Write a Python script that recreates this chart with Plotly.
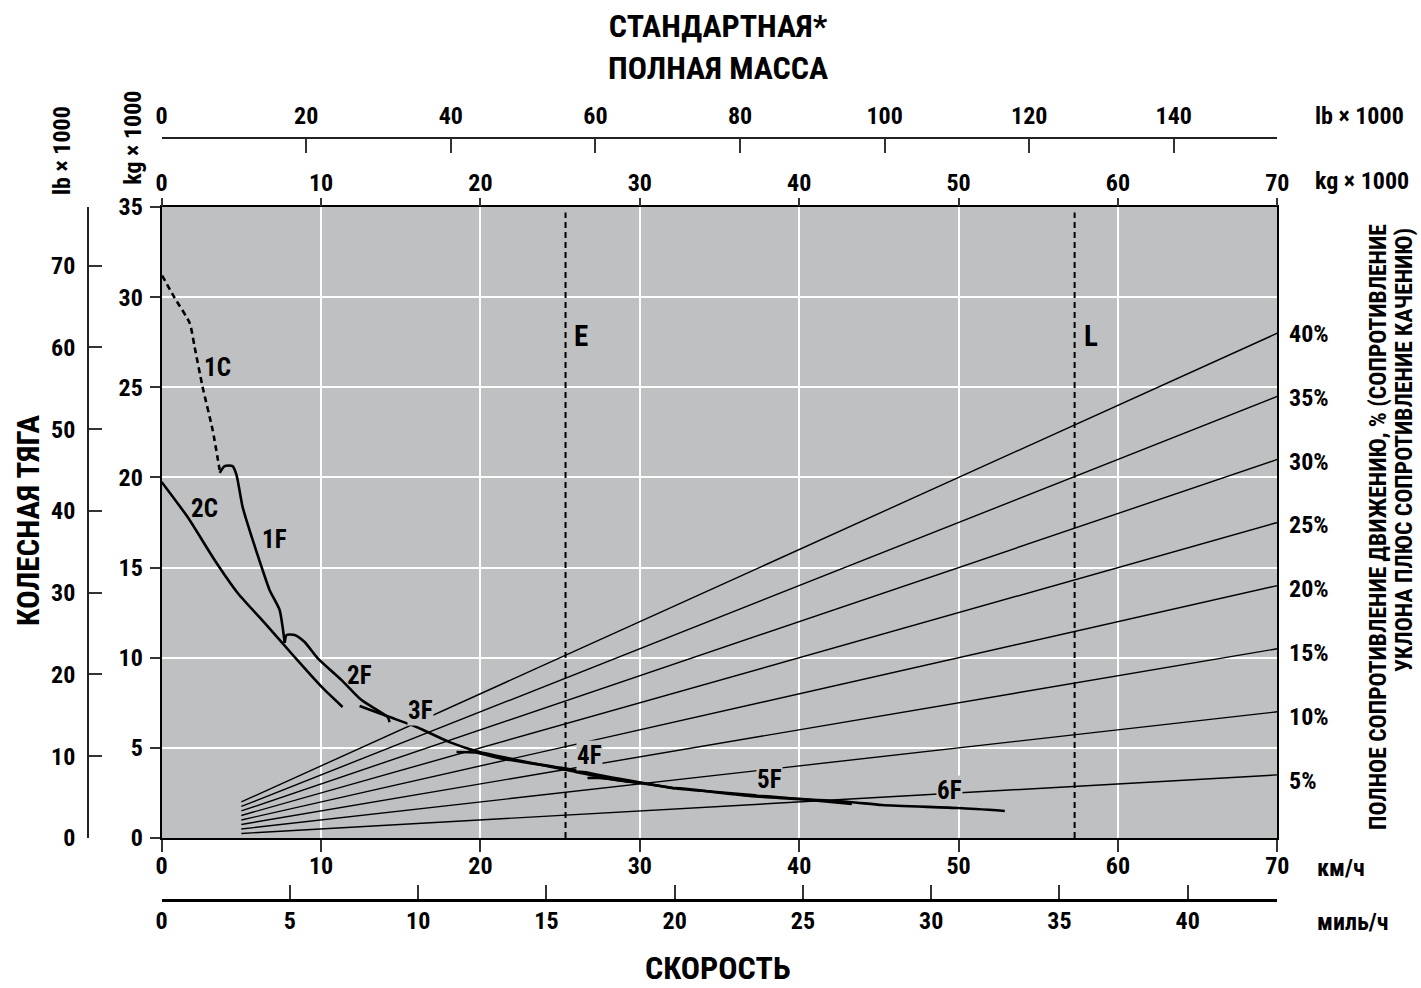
import plotly.graph_objects as go

# ---------------- data ----------------
# rimpull curves: speed (km/h) vs rimpull (kg x 1000)
c1C_x = [0.03, 0.82, 1.76, 2.07, 2.57, 3.20, 3.64]
c1C_y = [31.2, 29.95, 28.56, 27.23, 25.02, 22.63, 20.41]

c1F_x = [3.64, 3.95, 4.45, 4.70, 5.08, 5.65, 6.27, 6.77, 7.40, 7.59, 7.72]
c1F_y = [20.25, 20.63, 20.63, 20.13, 18.36, 16.70, 15.03, 13.76, 12.65, 11.70, 10.82]

c2C_x = [0.0, 1.63, 3.32, 4.77, 6.46, 8.34, 10.04, 11.35]
c2C_y = [19.75, 17.80, 15.42, 13.59, 11.93, 10.04, 8.38, 7.27]

c2F_x = [7.72, 7.84, 8.34, 8.97, 9.78, 11.29, 12.54, 14.18, 14.30]
c2F_y = [10.82, 11.26, 11.26, 10.87, 9.98, 8.76, 7.65, 6.71, 6.43]

c3F_x = [12.42, 14.30, 15.99, 18.06, 19.95, 22.27, 25.40, 28.54, 29.98]
c3F_y = [7.32, 6.71, 6.16, 5.32, 4.77, 4.33, 3.77, 3.22, 3.05]

c4F_x = [18.5, 19.7, 21.2, 25.34, 28.73, 32.18]
c4F_y = [4.77, 4.74, 4.42, 3.85, 3.28, 2.75]

c5F_x = [26.72, 27.5, 29.98, 32.3, 34.8, 40.0, 43.3]
c5F_y = [3.33, 3.33, 3.05, 2.75, 2.55, 2.16, 1.89]

c6F_x = [32.2, 33.0, 36.9, 43.15, 45.2, 50.05, 52.9]
c6F_y = [2.77, 2.72, 2.33, 2.00, 1.83, 1.66, 1.50]

curve_names = ["1C", "1F", "2C", "2F", "3F", "4F", "5F", "6F"]
label_x = [3.51, 7.09, 2.70, 12.42, 16.25, 26.85, 38.14, 49.43]
label_y = [26.12, 16.58, 18.25, 8.99, 7.05, 4.55, 3.27, 2.61]

# total resistance lines (% of gross mass)
grade_pct = [5, 10, 15, 20, 25, 30, 35, 40]
mass_range = [5, 70]  # kg x 1000

# empty / loaded mass markers (kg x 1000)
mass_marks = [25.34, 57.28]
mass_mark_names = ["E", "L"]

kg_ticks = [0, 10, 20, 30, 40, 50, 60, 70]
lb_top_ticks = [0, 20, 40, 60, 80, 100, 120, 140]
rim_ticks = [0, 5, 10, 15, 20, 25, 30, 35]
lb_left_ticks = [0, 10, 20, 30, 40, 50, 60, 70]
mph_ticks = [0, 5, 10, 15, 20, 25, 30, 35, 40]

KG2LB = 2.20462
KMH2MPH = 1 / 1.609344

# ---------------- style ----------------
FONT = "Roboto Condensed, Open Sans Condensed, Roboto, sans-serif"
BG = "#BFC0C2"
W, H = 1421, 988
ML, MR, MT, MB = 40, 20, 100, 60
PW, PH = W - ML - MR, H - MT - MB


def px_x(p):
    return (p - ML) / PW


def px_y(p):
    return (H - MB - p) / PH


XDOM = [px_x(162), px_x(1281)]
YDOM = [px_y(838), px_y(207)]

fig = go.Figure()

# resistance lines
for p in grade_pct:
    fig.add_trace(go.Scatter(
        x=mass_range, y=[m * p / 100 for m in mass_range], mode="lines",
        line=dict(color="black", width=1.4), hoverinfo="skip", showlegend=False))

# E / L dashed lines
for m in mass_marks:
    fig.add_trace(go.Scatter(
        x=[m, m], y=[0, 34.7], mode="lines",
        line=dict(color="black", width=2, dash="6px,4px"),
        hoverinfo="skip", showlegend=False))

# rimpull curves
curves = [(c1C_x, c1C_y, "6px,4px"), (c1F_x, c1F_y, "solid"), (c2C_x, c2C_y, "solid"),
          (c2F_x, c2F_y, "solid"), (c3F_x, c3F_y, "solid"), (c4F_x, c4F_y, "solid"),
          (c5F_x, c5F_y, "solid"), (c6F_x, c6F_y, "solid")]
for cx, cy, d in curves:
    fig.add_trace(go.Scatter(
        x=cx, y=cy, mode="lines",
        line=dict(color="black", width=2.6, dash=d, shape="spline", smoothing=0.6),
        hoverinfo="skip", showlegend=False))

# invisible traces to activate auxiliary axes
for xa, ya in [("x2", "y"), ("x3", "y"), ("x4", "y"), ("x", "y2")]:
    fig.add_trace(go.Scatter(x=[0], y=[0], xaxis=xa, yaxis=ya, mode="markers",
                             marker=dict(opacity=0), hoverinfo="skip", showlegend=False))

tickfont = dict(family=FONT, size=24, color="black", weight="bold")

fig.update_layout(
    width=W, height=H,
    margin=dict(l=ML, r=MR, t=MT, b=MB),
    paper_bgcolor="white", plot_bgcolor=BG,
    font=dict(family=FONT, color="black"),
    xaxis=dict(domain=XDOM, range=[0, 70], tickvals=kg_ticks, ticks="outside", ticklen=12,
               tickwidth=2, tickcolor="#333", showline=True, linecolor="black", linewidth=2,
               mirror=True, showgrid=True, gridcolor="white", gridwidth=2, zeroline=False,
               tickfont=tickfont, ticklabelstandoff=-7, anchor="y"),
    yaxis=dict(domain=YDOM, range=[0, 35], tickvals=rim_ticks, ticks="outside", ticklen=10,
               tickwidth=2, tickcolor="#333", showline=True, linecolor="black", linewidth=2,
               mirror=True, showgrid=True, gridcolor="white", gridwidth=2, zeroline=False,
               tickfont=tickfont, ticklabelstandoff=2, anchor="x"),
    xaxis2=dict(overlaying="x", side="top", anchor="y", range=[0, 70], tickvals=kg_ticks,
                ticks="outside", ticklen=8, tickwidth=2, tickcolor="#333", showgrid=False,
                zeroline=False, showline=False, tickfont=tickfont, ticklabelstandoff=-3),
    xaxis3=dict(overlaying="x", side="top", anchor="free", position=px_y(138),
                range=[0, 70 * KG2LB], tickvals=lb_top_ticks, ticks="inside", ticklen=14,
                tickwidth=1.5, tickcolor="#333", showline=True, linecolor="#222", linewidth=1.5,
                showgrid=False, zeroline=False, tickfont=tickfont, ticklabelstandoff=4),
    xaxis4=dict(overlaying="x", side="bottom", anchor="free", position=px_y(900),
                range=[0, 70 * KMH2MPH], tickvals=mph_ticks, ticks="inside", ticklen=14,
                tickwidth=1.5, tickcolor="#333", showline=True, linecolor="black", linewidth=2.5,
                showgrid=False, zeroline=False, tickfont=tickfont, ticklabelstandoff=-2),
    yaxis2=dict(overlaying="y", side="left", anchor="free", position=px_x(88),
                range=[0, 35 * KG2LB], tickvals=lb_left_ticks, ticks="inside", ticklen=13,
                tickwidth=1.5, tickcolor="#333", showline=True, linecolor="#222", linewidth=1.5,
                showgrid=False, zeroline=False, tickfont=tickfont, ticklabelstandoff=7),
)

ann = []


def txt(x, y, s, size=24, angle=0, xanchor="center", yanchor="middle", align="center",
        xref="paper", yref="paper", **kw):
    ann.append(dict(x=x, y=y, xref=xref, yref=yref, text=s, showarrow=False, textangle=angle,
                    xanchor=xanchor, yanchor=yanchor, align=align,
                    font=dict(family=FONT, size=size, color="black", weight="bold"), **kw))


# curve labels
for n, lx, ly in zip(curve_names, label_x, label_y):
    if n in ("3F", "4F", "5F", "6F"):
        txt(lx, ly, n, size=25, xref="x", yref="y", bgcolor=BG, borderpad=0)
    else:
        txt(lx, ly, n, size=25, xref="x", yref="y")

# E / L labels
for m, n in zip(mass_marks, mass_mark_names):
    txt(m + 1.0, 27.85, n, size=29, xref="x", yref="y")

# resistance % labels
for i, p in enumerate(grade_pct):
    txt(70, p * 70 / 100, f"{p}%", size=24, xref="x", yref="y", xanchor="left",
        xshift=10, yshift=-0.7 * (8 - i))

# titles
txt(px_x(720), px_y(47), "СТАНДАРТНАЯ*<br>ПОЛНАЯ МАССА", size=32)
txt(px_x(720), px_y(968), "СКОРОСТЬ", size=32)
txt(px_x(28), px_y(520), "КОЛЕСНАЯ ТЯГА", size=31, angle=-90)
txt(px_x(62), px_y(150), "lb × 1000", size=24, angle=-90)
txt(px_x(133), px_y(138), "kg × 1000", size=24, angle=-90)
txt(px_x(1317), px_y(116), "lb × 1000", size=24, xanchor="left")
txt(px_x(1317), px_y(181), "kg × 1000", size=24, xanchor="left")
txt(px_x(1319), px_y(868), "км/ч", size=24, xanchor="left")
txt(px_x(1319), px_y(922), "миль/ч", size=24, xanchor="left")
txt(px_x(1382), px_y(222), "ПОЛНОЕ СОПРОТИВЛЕНИЕ ДВИЖЕНИЮ, % (СОПРОТИВЛЕНИЕ",
    size=23.5, angle=-90, yanchor="top")
txt(px_x(1408), px_y(226), "УКЛОНА ПЛЮС СОПРОТИВЛЕНИЕ КАЧЕНИЮ)",
    size=23.5, angle=-90, yanchor="top")

fig.update_layout(annotations=ann)
fig.write_html("out.html", config={"displayModeBar": False},
               post_script="document.body.style.margin='0';")
